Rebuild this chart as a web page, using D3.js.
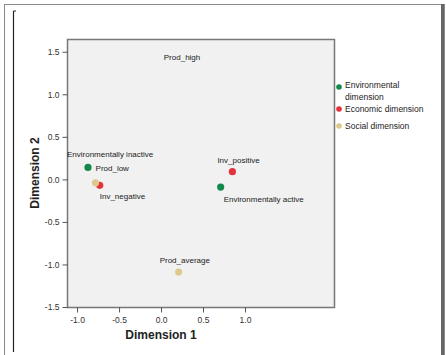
<!DOCTYPE html>
<html>
<head>
<meta charset="utf-8">
<script src="https://cdn.jsdelivr.net/npm/d3@7"></script>
<style>
  body { margin: 0; background: #fff; }
  text { font-family: "Liberation Sans", Arial, sans-serif; }
</style>
</head>
<body>
<div id="chart"></div>
<script>
// Category points (dimension 1, dimension 2)
const names = ["Environmentally inactive", "Environmentally active", "Inv_negative", "Inv_positive", "Prod_low", "Prod_average"];
const dim1 = [-0.87, 0.71, -0.73, 0.85, -0.78, 0.21];
const dim2 = [0.14, -0.09, -0.07, 0.09, -0.04, -1.09];
const groups = ["Environmental dimension", "Environmental dimension", "Economic dimension", "Economic dimension", "Social dimension", "Social dimension"];

// Prod_high only shows as a label, its point sits outside the plot
const extraLabel = { name: "Prod_high", x: 0.25, y: 1.4 };

const legendItems = ["Environmental dimension", "Economic dimension", "Social dimension"];
const xTicks = [-1.0, -0.5, 0.0, 0.5, 1.0];
const yTicks = [1.5, 1.0, 0.5, 0.0, -0.5, -1.0, -1.5];

const width = 446;
const height = 355;
const margin = { top: 39, right: 112, bottom: 48, left: 67 };

const color = d3.scaleOrdinal()
    .domain(legendItems)
    .range(["#12894a", "#e2333c", "#ddc98c"]);

const svg = d3.select("#chart")
    .append("svg")
    .attr("width", width)
    .attr("height", height);

// outer frames
svg.append("rect")
    .attr("x", 4.5).attr("y", 4.5)
    .attr("width", 440).attr("height", 360)
    .attr("fill", "none").attr("stroke", "#8a8a8a");
svg.append("line")
    .attr("x1", 13.5).attr("x2", 13.5).attr("y1", 11).attr("y2", 352)
    .attr("stroke", "#222").attr("stroke-width", 1.2);
svg.append("line")
    .attr("x1", 13.5).attr("x2", 16).attr("y1", 11).attr("y2", 11)
    .attr("stroke", "#222");
svg.append("line")
    .attr("x1", 442.5).attr("x2", 442.5).attr("y1", 4).attr("y2", 355)
    .attr("stroke", "#666").attr("stroke-width", 3);

const xScale = d3.scaleLinear()
    .domain([-1.12, 2.06])
    .range([margin.left, width - margin.right]);

const yScale = d3.scaleLinear()
    .domain([-1.5, 1.65])
    .range([height - margin.bottom, margin.top]);

// plot area
svg.append("rect")
    .attr("x", margin.left + 0.5)
    .attr("y", margin.top + 0.5)
    .attr("width", width - margin.left - margin.right)
    .attr("height", height - margin.top - margin.bottom)
    .attr("fill", "#f1f1f1")
    .attr("stroke", "#777")
    .attr("stroke-width", 1.5);

// Axes
const xAxis = svg.append("g")
    .attr("transform", `translate(0,${height - margin.bottom + 0.5})`)
    .call(d3.axisBottom(xScale).tickValues(xTicks).tickFormat(d3.format(".1f")).tickSize(5).tickPadding(4));
const yAxis = svg.append("g")
    .attr("transform", `translate(${margin.left + 0.5},0)`)
    .call(d3.axisLeft(yScale).tickValues(yTicks).tickFormat(d3.format(".1f")).tickSize(5).tickPadding(3));
[xAxis, yAxis].forEach(g => {
    g.select(".domain").remove();
    g.selectAll(".tick line").attr("stroke", "#555");
    g.selectAll(".tick text")
        .attr("fill", "#333")
        .style("font-size", "8.5px")
        .text(d => d3.format(".1f")(d).replace("\u2212", "-"));
});

svg.append("text")
    .attr("x", 161).attr("y", 339)
    .attr("text-anchor", "middle")
    .style("font-size", "12px").style("font-weight", "bold")
    .attr("fill", "#222")
    .text("Dimension 1");
svg.append("text")
    .attr("transform", "translate(39,173) rotate(-90)")
    .attr("text-anchor", "middle")
    .style("font-size", "12px").style("font-weight", "bold")
    .attr("fill", "#222")
    .text("Dimension 2");

// points
const points = names.map((n, i) => ({ name: n, x: dim1[i], y: dim2[i], group: groups[i] }));
svg.selectAll(".pt")
    .data(points)
    .enter().append("circle")
    .attr("cx", d => xScale(d.x))
    .attr("cy", d => yScale(d.y))
    .attr("r", 3.6)
    .attr("fill", d => color(d.group));

// label offsets like SPSS's placement
const offsets = {
    "Environmentally inactive": [-21, -10, "start"],
    "Environmentally active": [3, 15, "start"],
    "Inv_negative": [0, 14, "start"],
    "Inv_positive": [-15, -9, "start"],
    "Prod_low": [0, -12, "start"],
    "Prod_average": [-19, -9, "start"]
};
svg.selectAll(".lbl")
    .data(points)
    .enter().append("text")
    .attr("x", d => xScale(d.x) + offsets[d.name][0])
    .attr("y", d => yScale(d.y) + offsets[d.name][1])
    .attr("text-anchor", d => offsets[d.name][2])
    .style("font-size", "8px")
    .attr("fill", "#222")
    .text(d => d.name);
svg.append("text")
    .attr("x", xScale(extraLabel.x))
    .attr("y", yScale(extraLabel.y))
    .attr("text-anchor", "middle")
    .style("font-size", "8px")
    .attr("fill", "#222")
    .text(extraLabel.name);

// Legend
const legY = [87, 109, 126];
const legLines = [["Environmental", "dimension"], ["Economic dimension"], ["Social dimension"]];
legendItems.forEach((item, i) => {
    svg.append("circle")
        .attr("cx", 339).attr("cy", legY[i]).attr("r", 2.8)
        .attr("fill", color(item));
    legLines[i].forEach((t, j) => {
        svg.append("text")
            .attr("x", 345).attr("y", legY[i] + (i === 0 ? -2 : 0) + j * 12)
            .attr("dy", "0.3em")
            .style("font-size", "8.5px")
            .attr("fill", "#222")
            .text(t);
    });
});
</script>
</body>
</html>
